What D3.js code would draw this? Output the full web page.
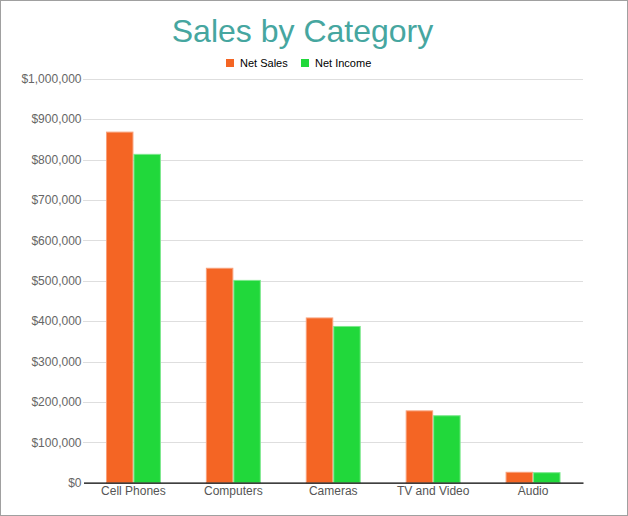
<!DOCTYPE html>
<html>
<head>
<meta charset="utf-8">
<script src="https://cdn.jsdelivr.net/npm/d3@7"></script>
<style>
  html, body { margin: 0; padding: 0; background: #fff; }
  svg { display: block; font-family: "Liberation Sans", Arial, sans-serif; }
</style>
</head>
<body>
<svg id="chart" width="628" height="516"></svg>
<script>
var categories = ["Cell Phones", "Computers", "Cameras", "TV and Video", "Audio"];
var seriesNames = ["Net Sales", "Net Income"];
var netSales  = [869000, 532000, 409000, 179000, 27000];
var netIncome = [814000, 502000, 388000, 167000, 26000];
var yTicks = [0, 100000, 200000, 300000, 400000, 500000, 600000, 700000, 800000, 900000, 1000000];
var colors = ["#f46524", "#21d83b"];
var strokes = ["#f8a07a", "#7de88d"];

var svg = d3.select("#chart");
var width = 628, height = 516;
var margin = { top: 78.7, right: 45, bottom: 33.3, left: 83.5 };

var x = d3.scaleBand()
  .domain(categories)
  .range([margin.left, width - margin.right])
  .paddingInner(0.45)
  .paddingOuter(0.225);

var xInner = d3.scaleBand()
  .domain(seriesNames)
  .range([0, x.bandwidth()]);

var y = d3.scaleLinear()
  .domain([0, 1000000])
  .range([height - margin.bottom, margin.top]);

// frame
svg.append("rect")
  .attr("x", 0.5).attr("y", 0.5)
  .attr("width", width - 1).attr("height", height - 1)
  .attr("fill", "none").attr("stroke", "#a0a0a0");

// grid lines
svg.append("g")
  .selectAll("line")
  .data(yTicks.slice(1))
  .enter().append("line")
  .attr("x1", margin.left).attr("x2", width - margin.right)
  .attr("y1", function (d) { return Math.round(y(d)) + 0.5; })
  .attr("y2", function (d) { return Math.round(y(d)) + 0.5; })
  .attr("stroke", "#bdbdbd")
  .attr("stroke-dasharray", "1,1");

// y axis labels
var fmt = d3.format("$,");
var yAxis = d3.axisLeft(y).tickValues(yTicks).tickFormat(fmt).tickSize(0).tickPadding(2);
var yg = svg.append("g")
  .attr("transform", "translate(" + margin.left + ",0)")
  .call(yAxis);
yg.select(".domain").remove();
yg.selectAll("text")
  .attr("fill", "#666")
  .style("font-size", "12px")
  .style("font-family", "Liberation Sans, Arial, sans-serif");

// bars
var data = categories.map(function (c, i) {
  return { cat: c, values: [netSales[i], netIncome[i]] };
});

var groups = svg.append("g")
  .selectAll("g")
  .data(data)
  .enter().append("g")
  .attr("transform", function (d) { return "translate(" + x(d.cat) + ",0)"; });

groups.selectAll("rect")
  .data(function (d) {
    return d.values.map(function (v, j) { return { name: seriesNames[j], value: v, j: j }; });
  })
  .enter().append("rect")
  .attr("x", function (d) { return xInner(d.name) + 0.5; })
  .attr("y", function (d) { return y(d.value) + 0.5; })
  .attr("width", xInner.bandwidth() - 1)
  .attr("height", function (d) { return y(0) - y(d.value) - 0.5; })
  .attr("fill", function (d) { return colors[d.j]; })
  .attr("stroke", function (d) { return strokes[d.j]; })
  .attr("stroke-width", 1);

// x axis
var xAxis = d3.axisBottom(x).tickSize(0).tickPadding(4);
var xg = svg.append("g")
  .attr("transform", "translate(0," + y(0) + ")")
  .call(xAxis);
xg.select(".domain")
  .attr("stroke", "#000")
  .attr("stroke-width", 1.3);
xg.selectAll("text")
  .attr("fill", "#555")
  .style("font-size", "12px")
  .style("font-family", "Liberation Sans, Arial, sans-serif");

// title
svg.append("text")
  .attr("x", 302.5)
  .attr("y", 42)
  .attr("text-anchor", "middle")
  .attr("fill", "#46a6a0")
  .style("font-size", "32px")
  .text("Sales by Category");

// legend
var legendX = [226, 301];
var legend = svg.append("g")
  .selectAll("g")
  .data(seriesNames)
  .enter().append("g")
  .attr("transform", function (d, i) { return "translate(" + legendX[i] + ",59)"; });
legend.append("rect")
  .attr("width", 8).attr("height", 8)
  .attr("fill", function (d, i) { return colors[i]; });
legend.append("text")
  .attr("x", 14).attr("y", 8)
  .attr("fill", "#000")
  .style("font-size", "11px")
  .text(function (d) { return d; });
</script>
</body>
</html>
